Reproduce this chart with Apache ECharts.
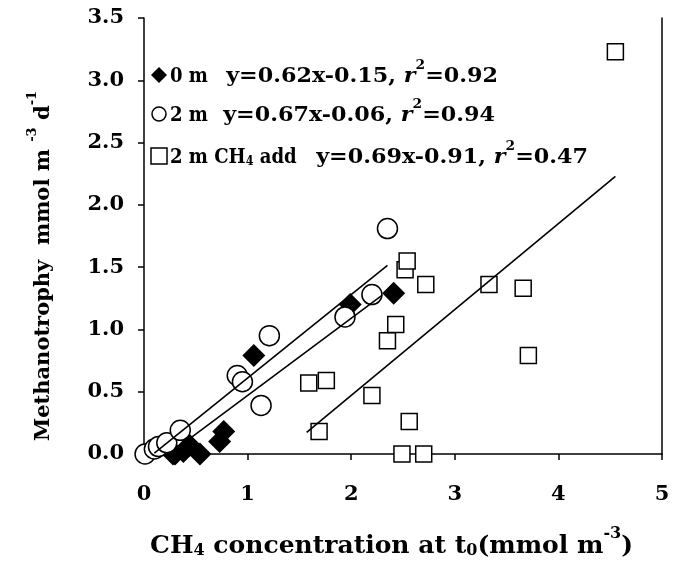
<!DOCTYPE html>
<html><head><meta charset="utf-8">
<script src="https://cdn.jsdelivr.net/npm/echarts@6/dist/echarts.min.js"></script>
<style>html,body{margin:0;padding:0;background:#fff}#c{width:686px;height:561px}</style>
</head><body><div id="c"></div>
<script>
// ---- data ----
var m0X = [0.28, 0.30, 0.38, 0.44, 0.54, 0.73, 0.77, 1.06, 1.99, 2.41];
var m0Y = [0.00, 0.00, 0.02, 0.07, 0.00, 0.10, 0.18, 0.79, 1.20, 1.29];
var m2X = [0.01, 0.10, 0.14, 0.22, 0.35, 0.90, 0.95, 1.13, 1.21, 1.94, 2.20, 2.35];
var m2Y = [0.00, 0.04, 0.06, 0.09, 0.19, 0.63, 0.58, 0.39, 0.95, 1.10, 1.28, 1.81];
var addX = [1.59, 1.69, 1.76, 2.20, 2.35, 2.43, 2.49, 2.52, 2.54, 2.56, 2.70, 2.72, 3.33, 3.66, 3.71, 4.55];
var addY = [0.57, 0.18, 0.59, 0.47, 0.91, 1.04, 0.00, 1.48, 1.55, 0.26, 0.00, 1.36, 1.36, 1.33, 0.79, 3.23];
// regression lines: y = slope*x + intercept, drawn over [start, end]
var fitSlope = [0.62, 0.67, 0.69];
var fitIntercept = [-0.15, -0.06, -0.91];
var fitStart = [0.25, 0.10, 1.57];
var fitEnd = [2.30, 2.35, 4.55];
var xTicks = [0, 1, 2, 3, 4, 5];
var yTicks = [0.0, 0.5, 1.0, 1.5, 2.0, 2.5, 3.0, 3.5];
var legendLabels = ['0 m', '2 m', '2 m CH\u2084 add'];
var legendEq = [['0.62', '0.15', '0.92'], ['0.67', '0.06', '0.94'], ['0.69', '0.91', '0.47']];

function pairs(xs, ys) { return xs.map(function (x, i) { return [x, ys[i]]; }); }
function fitLine(i) {
  return [[fitStart[i], fitSlope[i] * fitStart[i] + fitIntercept[i]],
          [fitEnd[i], fitSlope[i] * fitEnd[i] + fitIntercept[i]]];
}
var FF = '"DejaVu Serif", serif';
var chart = echarts.init(document.getElementById('c'), null, {renderer: 'canvas'});
var lineSeries = [0, 1, 2].map(function (i) {
  return {type: 'line', data: fitLine(i), symbol: 'none', z: 5, silent: true,
    lineStyle: {color: '#000', width: 1.6}, animation: false};
});
function richText(size) {
  return {
    b: {fontFamily: FF, fontWeight: 'bold', fontSize: size, lineHeight: size * 1.3, verticalAlign: 'bottom'},
    i: {fontFamily: FF, fontWeight: 'bold', fontStyle: 'italic', fontSize: size, lineHeight: size * 1.3, verticalAlign: 'bottom'},
    sup: {fontFamily: FF, fontWeight: 'bold', fontSize: Math.round(size * 0.62), lineHeight: size * 1.3, verticalAlign: 'top'},
    sub: {fontFamily: FF, fontWeight: 'bold', fontSize: Math.round(size * 0.62), lineHeight: size * 1.0, verticalAlign: 'bottom'}
  };
}
var legSize = 21;
var legendY = [75, 114, 156];
var legendEqEnd = [498, 495, 588];
var legendSym = ['diamond', 'circle', 'rect'];
var graphics = [];
legendLabels.forEach(function (lab, i) {
  var labRich = lab.indexOf('\u2084') >= 0 ? '{b|2 m CH}{sub|4}{b| add}' : '{b|' + lab + '}';
  graphics.push({type: 'text', x: 170, y: legendY[i] - 2, scaleX: 0.86,
    style: {text: labRich, rich: richText(legSize), fill: '#000', align: 'left', verticalAlign: 'middle'}});
  var eq = '{b|y=' + legendEq[i][0] + 'x-' + legendEq[i][1] + ', }{i|r}{sup|2}{b|=' + legendEq[i][2] + '}';
  graphics.push({type: 'text', x: legendEqEnd[i], y: legendY[i] - 2, scaleX: 1.06,
    style: {text: eq, rich: richText(legSize), fill: '#000', align: 'right', verticalAlign: 'middle'}});
});
graphics.push({type: 'text', left: 150, top: 526,
  style: {text: '{b|CH}{sub|4}{b| concentration at t}{sub|0}{b|(mmol m}{sup|-3}{b|)}', rich: richText(25), fill: '#000'}});
graphics.push({type: 'text', x: 40, y: 266, rotation: Math.PI / 2,
  style: {text: '{b|Methanotrophy  mmol m }{sup|-3}{b| d}{sup|-1}', rich: richText(21), fill: '#000', align: 'center', verticalAlign: 'middle'}});

var option = {
  animation: false,
  backgroundColor: '#fff',
  grid: {left: 144, right: 24, top: 18, bottom: 107, containLabel: false},
  xAxis: {type: 'value', min: 0, max: 5, interval: 1,
    axisLine: {show: true, lineStyle: {color: '#000', width: 1.5}},
    axisTick: {show: true, inside: false, length: 6, lineStyle: {color: '#000', width: 1.5}},
    axisLabel: {margin: 30, color: '#000', fontFamily: FF, fontWeight: 'bold', fontSize: 21,
      formatter: function (v) { return xTicks.indexOf(v) >= 0 ? String(v) : ''; }},
    splitLine: {show: false}},
  yAxis: [{type: 'value', min: 0, max: 3.5, interval: 0.5,
    axisLine: {show: true, lineStyle: {color: '#000', width: 1.5}},
    axisTick: {show: true, inside: false, length: 6, lineStyle: {color: '#000', width: 1.5}},
    axisLabel: {margin: 20, color: '#000', fontFamily: FF, fontWeight: 'bold', fontSize: 21,
      formatter: function (v) { return yTicks.indexOf(v) >= 0 ? v.toFixed(1) : ''; }},
    splitLine: {show: false}},
    {type: 'value', min: 0, max: 3.5, interval: 0.5, position: 'right',
    axisLine: {show: true, lineStyle: {color: '#000', width: 1.5}},
    axisTick: {show: false}, axisLabel: {show: false}, splitLine: {show: false}}],
  series: [
    {type: 'scatter', data: pairs(m0X, m0Y), symbol: 'diamond', symbolSize: 23, z: 2,
      itemStyle: {color: '#000', borderColor: '#000', borderWidth: 0, opacity: 1}},
    {type: 'scatter', data: pairs(m2X, m2Y), symbol: 'circle', symbolSize: 20, z: 3,
      itemStyle: {color: '#fff', borderColor: '#000', borderWidth: 1.5, opacity: 1}},
    {type: 'scatter', data: pairs(addX, addY), symbol: 'rect', symbolSize: 16, z: 4,
      itemStyle: {color: '#fff', borderColor: '#000', borderWidth: 1.5, opacity: 1}}
  ].concat(lineSeries),
  graphic: graphics.concat(legendSym.map(function (s, i) {
    var el;
    if (s === 'circle') el = {type: 'circle', shape: {cx: 159, cy: legendY[i], r: 7}, style: {fill: '#fff', stroke: '#000', lineWidth: 1.5}};
    else if (s === 'rect') el = {type: 'rect', shape: {x: 151, y: legendY[i] - 8, width: 16, height: 16}, style: {fill: '#fff', stroke: '#000', lineWidth: 1.5}};
    else el = {type: 'polygon', shape: {points: [[159, legendY[i] - 8], [167, legendY[i]], [159, legendY[i] + 8], [151, legendY[i]]]}, style: {fill: '#000'}};
    return el;
  }))
};
chart.setOption(option);
</script></body></html>
